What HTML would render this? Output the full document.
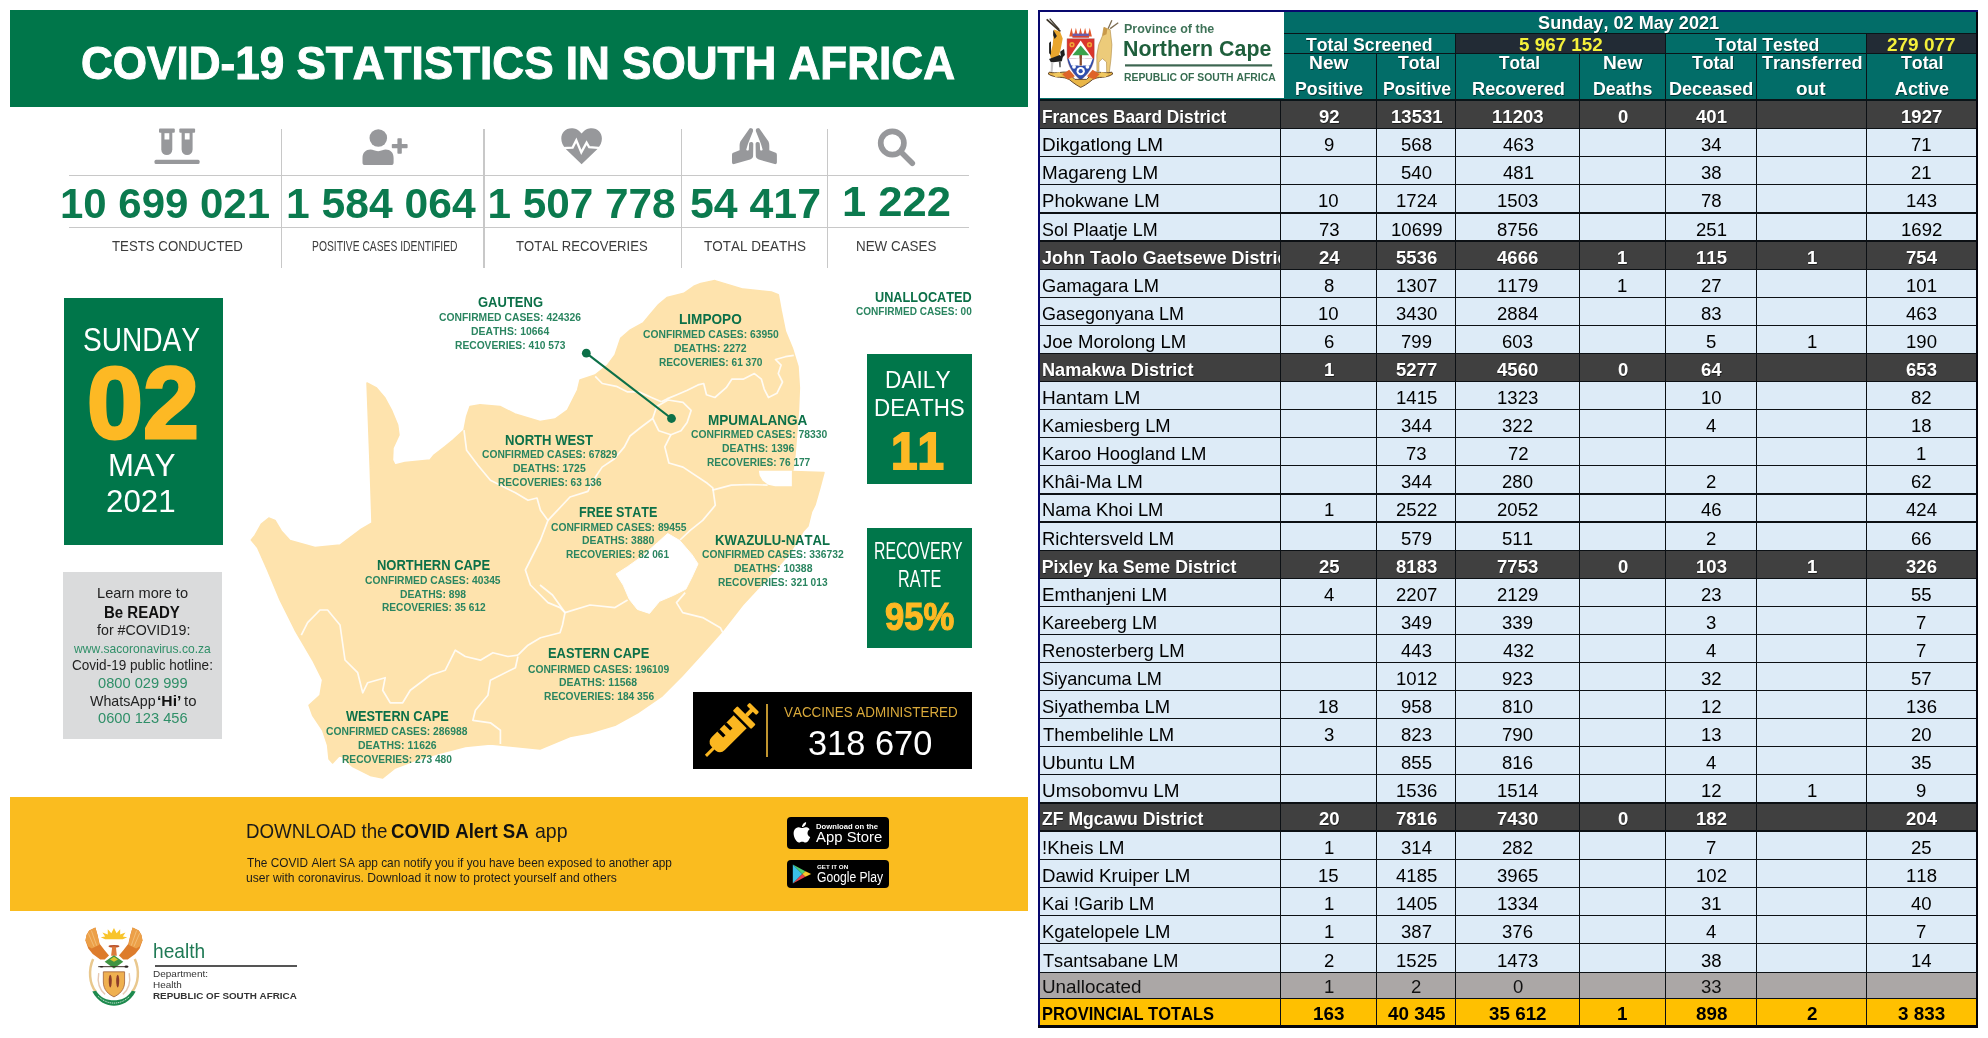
<!DOCTYPE html>
<html lang="en"><head><meta charset="utf-8"><title>COVID-19 Statistics in South Africa - Northern Cape</title>
<style>
html,body{margin:0;padding:0;background:#fff}
body{width:1988px;height:1038px;position:relative;overflow:hidden;font-family:"Liberation Sans",sans-serif}
.t{position:absolute;white-space:pre;line-height:1;transform-origin:0 0;display:block;font-kerning:none}
</style></head><body>
<div id="sheet" style="position:absolute;left:0;top:0;width:1988px;height:1038px;will-change:transform">
<div style="position:absolute;left:10.00px;top:10.00px;width:1018.00px;height:97.30px;background:#00764a;"></div>
<span class="t" style="left:80.79px;top:40px;font-size:46.8px;color:#fff;font-weight:700;transform:scaleX(0.9416);-webkit-text-stroke:1px #fff;">COVID-19 STATISTICS IN SOUTH AFRICA</span>
<div style="position:absolute;left:69.00px;top:175.40px;width:900.00px;height:1.10px;background:#c8c8c8;"></div>
<div style="position:absolute;left:69.00px;top:227.00px;width:900.00px;height:1.10px;background:#c8c8c8;"></div>
<div style="position:absolute;left:280.80px;top:129.00px;width:1.30px;height:139.00px;background:#c8c8c8;"></div>
<div style="position:absolute;left:483.30px;top:129.00px;width:1.30px;height:139.00px;background:#c8c8c8;"></div>
<div style="position:absolute;left:681.20px;top:129.00px;width:1.30px;height:139.00px;background:#c8c8c8;"></div>
<div style="position:absolute;left:827.00px;top:129.00px;width:1.30px;height:139.00px;background:#c8c8c8;"></div>
<span class="t" style="left:59.96px;top:183px;font-size:42.3px;color:#0b7a4e;font-weight:700;transform:scaleX(0.9920);">10 699 021</span>
<span class="t" style="left:285.72px;top:183px;font-size:42.3px;color:#0b7a4e;font-weight:700;transform:scaleX(1.0076);">1 584 064</span>
<span class="t" style="left:487.44px;top:183px;font-size:42.3px;color:#0b7a4e;font-weight:700;">1 507 778</span>
<span class="t" style="left:689.98px;top:183px;font-size:42.3px;color:#0b7a4e;font-weight:700;transform:scaleX(1.0125);">54 417</span>
<span class="t" style="left:841.96px;top:181px;font-size:42.3px;color:#0b7a4e;font-weight:700;transform:scaleX(1.0286);">1 222</span>
<span class="t" style="left:112.10px;top:238px;font-size:15.3px;color:#3c3c3c;transform:scaleX(0.8653);">TESTS CONDUCTED</span>
<span class="t" style="left:311.95px;top:238px;font-size:15.3px;color:#3c3c3c;transform:scaleX(0.6740);">POSITIVE CASES IDENTIFIED</span>
<span class="t" style="left:516.21px;top:238px;font-size:15.3px;color:#3c3c3c;transform:scaleX(0.8558);">TOTAL RECOVERIES</span>
<span class="t" style="left:703.60px;top:238px;font-size:15.3px;color:#3c3c3c;transform:scaleX(0.8824);">TOTAL DEATHS</span>
<span class="t" style="left:856.20px;top:238px;font-size:15.3px;color:#3c3c3c;transform:scaleX(0.8758);">NEW CASES</span>
<div style="position:absolute;left:63.50px;top:297.50px;width:159.30px;height:247.30px;background:#00764a;"></div>
<span class="t" style="left:82.62px;top:324px;font-size:32.8px;color:#fff;transform:scaleX(0.8566);">SUNDAY</span>
<span class="t" style="left:87.42px;top:352px;font-size:102px;color:#fdb924;font-weight:700;transform:scaleX(0.9873);-webkit-text-stroke:3px #fdb924;">02</span>
<span class="t" style="left:108.05px;top:449px;font-size:32.2px;color:#fff;transform:scaleX(0.9665);">MAY</span>
<span class="t" style="left:105.82px;top:486px;font-size:31.2px;color:#fff;transform:scaleX(1.0043);">2021</span>
<div style="position:absolute;left:63.10px;top:571.90px;width:159.20px;height:167.30px;background:#dadbdc;"></div>
<span class="t" style="left:97.00px;top:586px;font-size:14.5px;color:#222;transform:scaleX(1.0082);">Learn more to</span>
<span class="t" style="left:104.10px;top:605px;font-size:16px;color:#111;font-weight:700;transform:scaleX(0.9374);">Be READY</span>
<span class="t" style="left:96.60px;top:623px;font-size:14.5px;color:#222;transform:scaleX(0.9822);">for #COVID19:</span>
<span class="t" style="left:74.32px;top:642px;font-size:13px;color:#2f8f68;transform:scaleX(0.9281);">www.sacoronavirus.co.za</span>
<span class="t" style="left:72.41px;top:658px;font-size:14.5px;color:#222;transform:scaleX(0.9350);">Covid-19 public hotline:</span>
<span class="t" style="left:97.83px;top:676px;font-size:14.5px;color:#2f8f68;transform:scaleX(1.0109);">0800 029 999</span>
<span class="t" style="left:89.64px;top:694px;font-size:14.5px;color:#222;transform:scaleX(0.9801);">WhatsApp</span>
<span class="t" style="left:157.44px;top:694px;font-size:14.5px;color:#111;font-weight:700;transform:scaleX(1.0783);">‘Hi’</span>
<span class="t" style="left:184.27px;top:694px;font-size:14.5px;color:#222;transform:scaleX(1.0298);">to</span>
<span class="t" style="left:97.83px;top:711px;font-size:14.5px;color:#2f8f68;transform:scaleX(1.0103);">0600 123 456</span>
<div style="position:absolute;left:867.10px;top:354.20px;width:104.90px;height:130.30px;background:#00764a;"></div>
<span class="t" style="left:885.14px;top:368px;font-size:24.1px;color:#fff;transform:scaleX(0.9412);">DAILY</span>
<span class="t" style="left:873.76px;top:396px;font-size:24.1px;color:#fff;transform:scaleX(0.9285);">DEATHS</span>
<span class="t" style="left:890.60px;top:425px;font-size:52px;color:#fdb924;font-weight:700;transform:scaleX(0.9150);-webkit-text-stroke:2px #fdb924;">11</span>
<div style="position:absolute;left:867.00px;top:528.00px;width:105.30px;height:119.90px;background:#00764a;"></div>
<span class="t" style="left:874.41px;top:539px;font-size:24.6px;color:#fff;transform:scaleX(0.6406);">RECOVERY</span>
<span class="t" style="left:897.67px;top:567px;font-size:24.6px;color:#fff;transform:scaleX(0.6589);">RATE</span>
<span class="t" style="left:885.30px;top:598px;font-size:38.8px;color:#fdb924;font-weight:700;transform:scaleX(0.8912);-webkit-text-stroke:1.2px #fdb924;">95%</span>
<div style="position:absolute;left:692.80px;top:692.20px;width:279.10px;height:76.70px;background:#000;"></div>
<div style="position:absolute;left:766.40px;top:704.20px;width:1.80px;height:52.50px;background:#c0952f;"></div>
<span class="t" style="left:783.64px;top:705px;font-size:14.8px;color:#d9a93a;transform:scaleX(0.9071);">VACCINES ADMINISTERED</span>
<span class="t" style="left:808.09px;top:726px;font-size:34.6px;color:#fff;transform:scaleX(0.9943);">318 670</span>
<div style="position:absolute;left:10.00px;top:797.00px;width:1018.00px;height:113.70px;background:#fabc1f;"></div>
<span class="t" style="left:245.56px;top:822px;font-size:19.8px;color:#1a1a1a;transform:scaleX(0.9468);">DOWNLOAD the</span>
<span class="t" style="left:391.43px;top:822px;font-size:19.8px;color:#111;font-weight:700;transform:scaleX(0.9421);">COVID Alert SA</span>
<span class="t" style="left:534.67px;top:822px;font-size:19.8px;color:#1a1a1a;transform:scaleX(0.9884);">app</span>
<span class="t" style="left:246.83px;top:857px;font-size:12.8px;color:#1a1a1a;transform:scaleX(0.9247);">The COVID Alert SA app can notify you if you have been exposed to another app</span>
<span class="t" style="left:246.31px;top:872px;font-size:12.8px;color:#1a1a1a;transform:scaleX(0.9479);">user with coronavirus. Download it now to protect yourself and others</span>
<div style="position:absolute;left:786.60px;top:816.60px;width:102.90px;height:32.70px;background:#000;border-radius:4px;"></div>
<span class="t" style="left:815.69px;top:823px;font-size:8.1px;color:#fff;font-weight:700;transform:scaleX(0.9500);">Download on the</span>
<span class="t" style="left:816.17px;top:829px;font-size:15.4px;color:#fff;transform:scaleX(0.9679);">App Store</span>
<div style="position:absolute;left:786.60px;top:859.70px;width:102.90px;height:28.50px;background:#000;border-radius:4px;"></div>
<span class="t" style="left:816.94px;top:864px;font-size:6.1px;color:#fff;font-weight:700;transform:scaleX(1.0255);">GET IT ON</span>
<span class="t" style="left:816.59px;top:870px;font-size:14px;color:#fff;transform:scaleX(0.8671);">Google Play</span>
<span class="t" style="left:152.67px;top:941px;font-size:20.7px;color:#1f7a55;transform:scaleX(0.9250);">health</span>
<div style="position:absolute;left:154.50px;top:965.20px;width:142.10px;height:1.40px;background:#555;"></div>
<span class="t" style="left:153.18px;top:970px;font-size:9.2px;color:#333;transform:scaleX(1.0892);">Department:</span>
<span class="t" style="left:153.18px;top:981px;font-size:9.2px;color:#333;transform:scaleX(1.0815);">Health</span>
<span class="t" style="left:153.34px;top:991px;font-size:9.7px;color:#333;font-weight:700;transform:scaleX(1.0155);">REPUBLIC OF SOUTH AFRICA</span>
<div style="position:absolute;left:1038.00px;top:10.00px;width:940.00px;height:1017.60px;background:#08086e;"></div>
<div style="position:absolute;left:1038.00px;top:1025.40px;width:940.00px;height:2.20px;background:#04040c;"></div>
<div style="position:absolute;left:1976.00px;top:12.00px;width:2.00px;height:1015.60px;background:#04040c;"></div>
<div style="position:absolute;left:1040.00px;top:12.00px;width:936.00px;height:87.00px;background:#026d68;"></div>
<div style="position:absolute;left:1040.00px;top:12.00px;width:243.50px;height:85.50px;background:#fff;"></div>
<div style="position:absolute;left:1455.40px;top:33.80px;width:209.80px;height:19.20px;background:#222b35;"></div>
<div style="position:absolute;left:1866.20px;top:33.80px;width:109.80px;height:19.20px;background:#222b35;"></div>
<div style="position:absolute;left:1283.50px;top:33.00px;width:692.50px;height:1.20px;background:#0a1418;"></div>
<div style="position:absolute;left:1283.50px;top:53.00px;width:692.50px;height:1.20px;background:#0a1418;"></div>
<div style="position:absolute;left:1455.00px;top:33.50px;width:1.30px;height:66.00px;background:#0a1418;"></div>
<div style="position:absolute;left:1665.00px;top:33.50px;width:1.30px;height:66.00px;background:#0a1418;"></div>
<div style="position:absolute;left:1866.00px;top:33.50px;width:1.30px;height:66.00px;background:#0a1418;"></div>
<div style="position:absolute;left:1376.00px;top:53.50px;width:1.30px;height:46.00px;background:#0a1418;"></div>
<div style="position:absolute;left:1579.00px;top:53.50px;width:1.30px;height:46.00px;background:#0a1418;"></div>
<div style="position:absolute;left:1756.00px;top:53.50px;width:1.30px;height:46.00px;background:#0a1418;"></div>
<div style="position:absolute;left:1040.00px;top:100.55px;width:936.00px;height:28.09px;background:#404040;"></div>
<div style="position:absolute;left:1040.00px;top:128.64px;width:936.00px;height:28.10px;background:#ddebf7;"></div>
<div style="position:absolute;left:1040.00px;top:156.74px;width:936.00px;height:28.09px;background:#ddebf7;"></div>
<div style="position:absolute;left:1040.00px;top:184.83px;width:936.00px;height:28.10px;background:#ddebf7;"></div>
<div style="position:absolute;left:1040.00px;top:212.93px;width:936.00px;height:28.09px;background:#ddebf7;"></div>
<div style="position:absolute;left:1040.00px;top:241.02px;width:936.00px;height:28.10px;background:#404040;"></div>
<div style="position:absolute;left:1040.00px;top:269.12px;width:936.00px;height:28.09px;background:#ddebf7;"></div>
<div style="position:absolute;left:1040.00px;top:297.21px;width:936.00px;height:28.10px;background:#ddebf7;"></div>
<div style="position:absolute;left:1040.00px;top:325.31px;width:936.00px;height:28.09px;background:#ddebf7;"></div>
<div style="position:absolute;left:1040.00px;top:353.40px;width:936.00px;height:28.10px;background:#404040;"></div>
<div style="position:absolute;left:1040.00px;top:381.50px;width:936.00px;height:28.09px;background:#ddebf7;"></div>
<div style="position:absolute;left:1040.00px;top:409.59px;width:936.00px;height:28.10px;background:#ddebf7;"></div>
<div style="position:absolute;left:1040.00px;top:437.69px;width:936.00px;height:28.10px;background:#ddebf7;"></div>
<div style="position:absolute;left:1040.00px;top:465.79px;width:936.00px;height:28.09px;background:#ddebf7;"></div>
<div style="position:absolute;left:1040.00px;top:493.88px;width:936.00px;height:28.09px;background:#ddebf7;"></div>
<div style="position:absolute;left:1040.00px;top:521.97px;width:936.00px;height:28.10px;background:#ddebf7;"></div>
<div style="position:absolute;left:1040.00px;top:550.07px;width:936.00px;height:28.10px;background:#404040;"></div>
<div style="position:absolute;left:1040.00px;top:578.16px;width:936.00px;height:28.10px;background:#ddebf7;"></div>
<div style="position:absolute;left:1040.00px;top:606.26px;width:936.00px;height:28.09px;background:#ddebf7;"></div>
<div style="position:absolute;left:1040.00px;top:634.35px;width:936.00px;height:28.10px;background:#ddebf7;"></div>
<div style="position:absolute;left:1040.00px;top:662.45px;width:936.00px;height:28.10px;background:#ddebf7;"></div>
<div style="position:absolute;left:1040.00px;top:690.54px;width:936.00px;height:28.09px;background:#ddebf7;"></div>
<div style="position:absolute;left:1040.00px;top:718.64px;width:936.00px;height:28.10px;background:#ddebf7;"></div>
<div style="position:absolute;left:1040.00px;top:746.73px;width:936.00px;height:28.10px;background:#ddebf7;"></div>
<div style="position:absolute;left:1040.00px;top:774.83px;width:936.00px;height:28.10px;background:#ddebf7;"></div>
<div style="position:absolute;left:1040.00px;top:802.92px;width:936.00px;height:28.10px;background:#404040;"></div>
<div style="position:absolute;left:1040.00px;top:831.02px;width:936.00px;height:28.09px;background:#ddebf7;"></div>
<div style="position:absolute;left:1040.00px;top:859.11px;width:936.00px;height:28.10px;background:#ddebf7;"></div>
<div style="position:absolute;left:1040.00px;top:887.21px;width:936.00px;height:28.10px;background:#ddebf7;"></div>
<div style="position:absolute;left:1040.00px;top:915.30px;width:936.00px;height:28.09px;background:#ddebf7;"></div>
<div style="position:absolute;left:1040.00px;top:943.40px;width:936.00px;height:29.00px;background:#ddebf7;"></div>
<div style="position:absolute;left:1040.00px;top:972.40px;width:936.00px;height:26.00px;background:#aba7a6;"></div>
<div style="position:absolute;left:1040.00px;top:998.40px;width:936.00px;height:27.00px;background:#ffc000;"></div>
<div style="position:absolute;left:1040.00px;top:99.00px;width:936.00px;height:1.50px;background:#0a1418;"></div>
<div style="position:absolute;left:1040.00px;top:128.09px;width:936.00px;height:1.20px;background:#0c1014;"></div>
<div style="position:absolute;left:1040.00px;top:156.19px;width:936.00px;height:1.20px;background:#0c1014;"></div>
<div style="position:absolute;left:1040.00px;top:184.28px;width:936.00px;height:1.20px;background:#0c1014;"></div>
<div style="position:absolute;left:1040.00px;top:212.38px;width:936.00px;height:1.20px;background:#0c1014;"></div>
<div style="position:absolute;left:1040.00px;top:240.47px;width:936.00px;height:1.20px;background:#0c1014;"></div>
<div style="position:absolute;left:1040.00px;top:268.57px;width:936.00px;height:1.20px;background:#0c1014;"></div>
<div style="position:absolute;left:1040.00px;top:296.66px;width:936.00px;height:1.20px;background:#0c1014;"></div>
<div style="position:absolute;left:1040.00px;top:324.76px;width:936.00px;height:1.20px;background:#0c1014;"></div>
<div style="position:absolute;left:1040.00px;top:352.85px;width:936.00px;height:1.20px;background:#0c1014;"></div>
<div style="position:absolute;left:1040.00px;top:380.95px;width:936.00px;height:1.20px;background:#0c1014;"></div>
<div style="position:absolute;left:1040.00px;top:409.04px;width:936.00px;height:1.20px;background:#0c1014;"></div>
<div style="position:absolute;left:1040.00px;top:437.14px;width:936.00px;height:1.20px;background:#0c1014;"></div>
<div style="position:absolute;left:1040.00px;top:465.24px;width:936.00px;height:1.20px;background:#0c1014;"></div>
<div style="position:absolute;left:1040.00px;top:493.33px;width:936.00px;height:1.20px;background:#0c1014;"></div>
<div style="position:absolute;left:1040.00px;top:521.42px;width:936.00px;height:1.20px;background:#0c1014;"></div>
<div style="position:absolute;left:1040.00px;top:549.52px;width:936.00px;height:1.20px;background:#0c1014;"></div>
<div style="position:absolute;left:1040.00px;top:577.62px;width:936.00px;height:1.20px;background:#0c1014;"></div>
<div style="position:absolute;left:1040.00px;top:605.71px;width:936.00px;height:1.20px;background:#0c1014;"></div>
<div style="position:absolute;left:1040.00px;top:633.80px;width:936.00px;height:1.20px;background:#0c1014;"></div>
<div style="position:absolute;left:1040.00px;top:661.90px;width:936.00px;height:1.20px;background:#0c1014;"></div>
<div style="position:absolute;left:1040.00px;top:690.00px;width:936.00px;height:1.20px;background:#0c1014;"></div>
<div style="position:absolute;left:1040.00px;top:718.09px;width:936.00px;height:1.20px;background:#0c1014;"></div>
<div style="position:absolute;left:1040.00px;top:746.18px;width:936.00px;height:1.20px;background:#0c1014;"></div>
<div style="position:absolute;left:1040.00px;top:774.28px;width:936.00px;height:1.20px;background:#0c1014;"></div>
<div style="position:absolute;left:1040.00px;top:802.38px;width:936.00px;height:1.20px;background:#0c1014;"></div>
<div style="position:absolute;left:1040.00px;top:830.47px;width:936.00px;height:1.20px;background:#0c1014;"></div>
<div style="position:absolute;left:1040.00px;top:858.56px;width:936.00px;height:1.20px;background:#0c1014;"></div>
<div style="position:absolute;left:1040.00px;top:886.66px;width:936.00px;height:1.20px;background:#0c1014;"></div>
<div style="position:absolute;left:1040.00px;top:914.75px;width:936.00px;height:1.20px;background:#0c1014;"></div>
<div style="position:absolute;left:1040.00px;top:942.85px;width:936.00px;height:1.20px;background:#0c1014;"></div>
<div style="position:absolute;left:1040.00px;top:971.85px;width:936.00px;height:1.20px;background:#0c1014;"></div>
<div style="position:absolute;left:1040.00px;top:997.85px;width:936.00px;height:1.20px;background:#0c1014;"></div>
<div style="position:absolute;left:1280.00px;top:99.50px;width:1.30px;height:926.00px;background:#0c1014;"></div>
<div style="position:absolute;left:1376.00px;top:99.50px;width:1.30px;height:926.00px;background:#0c1014;"></div>
<div style="position:absolute;left:1455.00px;top:99.50px;width:1.30px;height:926.00px;background:#0c1014;"></div>
<div style="position:absolute;left:1579.00px;top:99.50px;width:1.30px;height:926.00px;background:#0c1014;"></div>
<div style="position:absolute;left:1665.00px;top:99.50px;width:1.30px;height:926.00px;background:#0c1014;"></div>
<div style="position:absolute;left:1756.00px;top:99.50px;width:1.30px;height:926.00px;background:#0c1014;"></div>
<div style="position:absolute;left:1866.00px;top:99.50px;width:1.30px;height:926.00px;background:#0c1014;"></div>
<span class="t" style="left:1538.08px;top:14px;font-size:18.1px;color:#fff;font-weight:700;text-shadow:0.6px 0.8px 0.5px rgba(0,0,0,.55);">Sunday, 02 May 2021</span>
<span class="t" style="left:1305.60px;top:36px;font-size:18.1px;color:#fff;font-weight:700;transform:scaleX(0.9754);text-shadow:0.6px 0.8px 0.5px rgba(0,0,0,.55);">Total Screened</span>
<span class="t" style="left:1518.92px;top:36px;font-size:18.1px;color:#f4f03a;font-weight:700;transform:scaleX(1.0411);">5 967 152</span>
<span class="t" style="left:1714.90px;top:36px;font-size:18.1px;color:#fff;font-weight:700;transform:scaleX(0.9800);text-shadow:0.6px 0.8px 0.5px rgba(0,0,0,.55);">Total Tested</span>
<span class="t" style="left:1887.04px;top:36px;font-size:18.1px;color:#f4f03a;font-weight:700;transform:scaleX(1.0484);">279 077</span>
<span class="t" style="left:1308.51px;top:54px;font-size:18.1px;color:#fff;font-weight:700;transform:scaleX(1.0627);text-shadow:0.6px 0.8px 0.5px rgba(0,0,0,.55);">New</span>
<span class="t" style="left:1294.61px;top:80px;font-size:18.1px;color:#fff;font-weight:700;transform:scaleX(0.9825);text-shadow:0.6px 0.8px 0.5px rgba(0,0,0,.55);">Positive</span>
<span class="t" style="left:1397.60px;top:54px;font-size:18.1px;color:#fff;font-weight:700;transform:scaleX(0.9772);text-shadow:0.6px 0.8px 0.5px rgba(0,0,0,.55);">Total</span>
<span class="t" style="left:1382.51px;top:80px;font-size:18.1px;color:#fff;font-weight:700;transform:scaleX(0.9825);text-shadow:0.6px 0.8px 0.5px rgba(0,0,0,.55);">Positive</span>
<span class="t" style="left:1498.81px;top:54px;font-size:18.1px;color:#fff;font-weight:700;transform:scaleX(0.9485);text-shadow:0.6px 0.8px 0.5px rgba(0,0,0,.55);">Total</span>
<span class="t" style="left:1471.58px;top:80px;font-size:18.1px;color:#fff;font-weight:700;transform:scaleX(1.0049);text-shadow:0.6px 0.8px 0.5px rgba(0,0,0,.55);">Recovered</span>
<span class="t" style="left:1602.72px;top:54px;font-size:18.1px;color:#fff;font-weight:700;transform:scaleX(1.0599);text-shadow:0.6px 0.8px 0.5px rgba(0,0,0,.55);">New</span>
<span class="t" style="left:1592.71px;top:80px;font-size:18.1px;color:#fff;font-weight:700;transform:scaleX(0.9829);text-shadow:0.6px 0.8px 0.5px rgba(0,0,0,.55);">Deaths</span>
<span class="t" style="left:1691.50px;top:54px;font-size:18.1px;color:#fff;font-weight:700;transform:scaleX(0.9772);text-shadow:0.6px 0.8px 0.5px rgba(0,0,0,.55);">Total</span>
<span class="t" style="left:1668.89px;top:80px;font-size:18.1px;color:#fff;font-weight:700;text-shadow:0.6px 0.8px 0.5px rgba(0,0,0,.55);">Deceased</span>
<span class="t" style="left:1762.00px;top:54px;font-size:18.1px;color:#fff;font-weight:700;text-shadow:0.6px 0.8px 0.5px rgba(0,0,0,.55);">Transferred</span>
<span class="t" style="left:1796.46px;top:80px;font-size:18.1px;color:#fff;font-weight:700;transform:scaleX(1.0510);text-shadow:0.6px 0.8px 0.5px rgba(0,0,0,.55);">out</span>
<span class="t" style="left:1901.10px;top:54px;font-size:18.1px;color:#fff;font-weight:700;transform:scaleX(0.9820);text-shadow:0.6px 0.8px 0.5px rgba(0,0,0,.55);">Total</span>
<span class="t" style="left:1894.85px;top:80px;font-size:18.1px;color:#fff;font-weight:700;text-shadow:0.6px 0.8px 0.5px rgba(0,0,0,.55);">Active</span>
<span class="t" style="left:1041.74px;top:109px;font-size:17.8px;color:#fff;font-weight:700;transform:scaleX(0.9712);text-shadow:0.6px 0.8px 0.5px rgba(0,0,0,.55);">Frances Baard District</span>
<span class="t" style="left:1318.82px;top:108px;font-size:18.3px;color:#fff;font-weight:700;transform:scaleX(1.0150);text-shadow:0.6px 0.8px 0.5px rgba(0,0,0,.55);">92</span>
<span class="t" style="left:1390.50px;top:108px;font-size:18.3px;color:#fff;font-weight:700;transform:scaleX(1.0150);text-shadow:0.6px 0.8px 0.5px rgba(0,0,0,.55);">13531</span>
<span class="t" style="left:1491.77px;top:108px;font-size:18.3px;color:#fff;font-weight:700;transform:scaleX(1.0150);text-shadow:0.6px 0.8px 0.5px rgba(0,0,0,.55);">11203</span>
<span class="t" style="left:1617.60px;top:108px;font-size:18.3px;color:#fff;font-weight:700;transform:scaleX(1.0150);text-shadow:0.6px 0.8px 0.5px rgba(0,0,0,.55);">0</span>
<span class="t" style="left:1696.17px;top:108px;font-size:18.3px;color:#fff;font-weight:700;transform:scaleX(1.0150);text-shadow:0.6px 0.8px 0.5px rgba(0,0,0,.55);">401</span>
<span class="t" style="left:1900.66px;top:108px;font-size:18.3px;color:#fff;font-weight:700;transform:scaleX(1.0150);text-shadow:0.6px 0.8px 0.5px rgba(0,0,0,.55);">1927</span>
<span class="t" style="left:1041.64px;top:137px;font-size:17.8px;color:#000;transform:scaleX(1.0653);">Dikgatlong LM</span>
<span class="t" style="left:1323.94px;top:136px;font-size:18.3px;color:#000;transform:scaleX(1.0150);">9</span>
<span class="t" style="left:1401.19px;top:136px;font-size:18.3px;color:#000;transform:scaleX(1.0150);">568</span>
<span class="t" style="left:1502.55px;top:136px;font-size:18.3px;color:#000;transform:scaleX(1.0150);">463</span>
<span class="t" style="left:1701.14px;top:136px;font-size:18.3px;color:#000;transform:scaleX(1.0150);">34</span>
<span class="t" style="left:1911.15px;top:136px;font-size:18.3px;color:#000;transform:scaleX(1.0150);">71</span>
<span class="t" style="left:1041.65px;top:165px;font-size:17.8px;color:#000;transform:scaleX(1.0589);">Magareng LM</span>
<span class="t" style="left:1401.15px;top:164px;font-size:18.3px;color:#000;transform:scaleX(1.0150);">540</span>
<span class="t" style="left:1502.59px;top:164px;font-size:18.3px;color:#000;transform:scaleX(1.0150);">481</span>
<span class="t" style="left:1701.27px;top:164px;font-size:18.3px;color:#000;transform:scaleX(1.0150);">38</span>
<span class="t" style="left:1911.16px;top:164px;font-size:18.3px;color:#000;transform:scaleX(1.0150);">21</span>
<span class="t" style="left:1041.67px;top:193px;font-size:17.8px;color:#000;transform:scaleX(1.0448);">Phokwane LM</span>
<span class="t" style="left:1318.43px;top:192px;font-size:18.3px;color:#000;transform:scaleX(1.0150);">10</span>
<span class="t" style="left:1395.55px;top:192px;font-size:18.3px;color:#000;transform:scaleX(1.0150);">1724</span>
<span class="t" style="left:1496.89px;top:192px;font-size:18.3px;color:#000;transform:scaleX(1.0150);">1503</span>
<span class="t" style="left:1701.15px;top:192px;font-size:18.3px;color:#000;transform:scaleX(1.0150);">78</span>
<span class="t" style="left:1905.71px;top:192px;font-size:18.3px;color:#000;transform:scaleX(1.0150);">143</span>
<span class="t" style="left:1042.39px;top:222px;font-size:17.8px;color:#000;transform:scaleX(1.0080);">Sol Plaatje LM</span>
<span class="t" style="left:1318.70px;top:221px;font-size:18.3px;color:#000;transform:scaleX(1.0150);">73</span>
<span class="t" style="left:1390.56px;top:221px;font-size:18.3px;color:#000;transform:scaleX(1.0150);">10699</span>
<span class="t" style="left:1497.19px;top:221px;font-size:18.3px;color:#000;transform:scaleX(1.0150);">8756</span>
<span class="t" style="left:1696.04px;top:221px;font-size:18.3px;color:#000;transform:scaleX(1.0150);">251</span>
<span class="t" style="left:1900.60px;top:221px;font-size:18.3px;color:#000;transform:scaleX(1.0150);">1692</span>
<div style="position:absolute;left:1040px;top:241.0px;width:239.7px;height:28.095px;overflow:hidden">
<span class="t" style="left:2.33px;top:9.0px;font-size:17.8px;font-weight:700;color:#fff;transform:scaleX(1.01);text-shadow:0.6px 0.8px 0.5px rgba(0,0,0,.55);">John Taolo Gaetsewe District</span></div>
<span class="t" style="left:1318.50px;top:249px;font-size:18.3px;color:#fff;font-weight:700;transform:scaleX(1.0150);text-shadow:0.6px 0.8px 0.5px rgba(0,0,0,.55);">24</span>
<span class="t" style="left:1396.04px;top:249px;font-size:18.3px;color:#fff;font-weight:700;transform:scaleX(1.0150);text-shadow:0.6px 0.8px 0.5px rgba(0,0,0,.55);">5536</span>
<span class="t" style="left:1497.38px;top:249px;font-size:18.3px;color:#fff;font-weight:700;transform:scaleX(1.0150);text-shadow:0.6px 0.8px 0.5px rgba(0,0,0,.55);">4666</span>
<span class="t" style="left:1617.26px;top:249px;font-size:18.3px;color:#fff;font-weight:700;transform:scaleX(1.0150);text-shadow:0.6px 0.8px 0.5px rgba(0,0,0,.55);">1</span>
<span class="t" style="left:1695.73px;top:249px;font-size:18.3px;color:#fff;font-weight:700;transform:scaleX(1.0150);text-shadow:0.6px 0.8px 0.5px rgba(0,0,0,.55);">115</span>
<span class="t" style="left:1806.56px;top:249px;font-size:18.3px;color:#fff;font-weight:700;transform:scaleX(1.0150);text-shadow:0.6px 0.8px 0.5px rgba(0,0,0,.55);">1</span>
<span class="t" style="left:1905.66px;top:249px;font-size:18.3px;color:#fff;font-weight:700;transform:scaleX(1.0150);text-shadow:0.6px 0.8px 0.5px rgba(0,0,0,.55);">754</span>
<span class="t" style="left:1042.28px;top:278px;font-size:17.8px;color:#000;transform:scaleX(1.0286);">Gamagara LM</span>
<span class="t" style="left:1323.93px;top:277px;font-size:18.3px;color:#000;transform:scaleX(1.0150);">8</span>
<span class="t" style="left:1395.75px;top:277px;font-size:18.3px;color:#000;transform:scaleX(1.0150);">1307</span>
<span class="t" style="left:1496.92px;top:277px;font-size:18.3px;color:#000;transform:scaleX(1.0150);">1179</span>
<span class="t" style="left:1617.33px;top:277px;font-size:18.3px;color:#000;transform:scaleX(1.0150);">1</span>
<span class="t" style="left:1701.22px;top:277px;font-size:18.3px;color:#000;transform:scaleX(1.0150);">27</span>
<span class="t" style="left:1905.75px;top:277px;font-size:18.3px;color:#000;transform:scaleX(1.0150);">101</span>
<span class="t" style="left:1042.29px;top:306px;font-size:17.8px;color:#000;transform:scaleX(1.0112);">Gasegonyana LM</span>
<span class="t" style="left:1318.43px;top:305px;font-size:18.3px;color:#000;transform:scaleX(1.0150);">10</span>
<span class="t" style="left:1396.00px;top:305px;font-size:18.3px;color:#000;transform:scaleX(1.0150);">3430</span>
<span class="t" style="left:1496.99px;top:305px;font-size:18.3px;color:#000;transform:scaleX(1.0150);">2884</span>
<span class="t" style="left:1701.22px;top:305px;font-size:18.3px;color:#000;transform:scaleX(1.0150);">83</span>
<span class="t" style="left:1906.20px;top:305px;font-size:18.3px;color:#000;transform:scaleX(1.0150);">463</span>
<span class="t" style="left:1042.91px;top:334px;font-size:17.8px;color:#000;transform:scaleX(1.0428);">Joe Morolong LM</span>
<span class="t" style="left:1323.87px;top:333px;font-size:18.3px;color:#000;transform:scaleX(1.0150);">6</span>
<span class="t" style="left:1401.12px;top:333px;font-size:18.3px;color:#000;transform:scaleX(1.0150);">799</span>
<span class="t" style="left:1502.29px;top:333px;font-size:18.3px;color:#000;transform:scaleX(1.0150);">603</span>
<span class="t" style="left:1706.40px;top:333px;font-size:18.3px;color:#000;transform:scaleX(1.0150);">5</span>
<span class="t" style="left:1806.63px;top:333px;font-size:18.3px;color:#000;transform:scaleX(1.0150);">1</span>
<span class="t" style="left:1905.66px;top:333px;font-size:18.3px;color:#000;transform:scaleX(1.0150);">190</span>
<span class="t" style="left:1041.68px;top:362px;font-size:17.8px;color:#fff;font-weight:700;transform:scaleX(1.0218);text-shadow:0.6px 0.8px 0.5px rgba(0,0,0,.55);">Namakwa District</span>
<span class="t" style="left:1323.61px;top:361px;font-size:18.3px;color:#fff;font-weight:700;transform:scaleX(1.0150);text-shadow:0.6px 0.8px 0.5px rgba(0,0,0,.55);">1</span>
<span class="t" style="left:1396.11px;top:361px;font-size:18.3px;color:#fff;font-weight:700;transform:scaleX(1.0150);text-shadow:0.6px 0.8px 0.5px rgba(0,0,0,.55);">5277</span>
<span class="t" style="left:1497.43px;top:361px;font-size:18.3px;color:#fff;font-weight:700;transform:scaleX(1.0150);text-shadow:0.6px 0.8px 0.5px rgba(0,0,0,.55);">4560</span>
<span class="t" style="left:1617.60px;top:361px;font-size:18.3px;color:#fff;font-weight:700;transform:scaleX(1.0150);text-shadow:0.6px 0.8px 0.5px rgba(0,0,0,.55);">0</span>
<span class="t" style="left:1700.93px;top:361px;font-size:18.3px;color:#fff;font-weight:700;transform:scaleX(1.0150);text-shadow:0.6px 0.8px 0.5px rgba(0,0,0,.55);">64</span>
<span class="t" style="left:1906.00px;top:361px;font-size:18.3px;color:#fff;font-weight:700;transform:scaleX(1.0150);text-shadow:0.6px 0.8px 0.5px rgba(0,0,0,.55);">653</span>
<span class="t" style="left:1041.64px;top:390px;font-size:17.8px;color:#000;transform:scaleX(1.0698);">Hantam LM</span>
<span class="t" style="left:1395.67px;top:389px;font-size:18.3px;color:#000;transform:scaleX(1.0150);">1415</span>
<span class="t" style="left:1496.89px;top:389px;font-size:18.3px;color:#000;transform:scaleX(1.0150);">1323</span>
<span class="t" style="left:1700.88px;top:389px;font-size:18.3px;color:#000;transform:scaleX(1.0150);">10</span>
<span class="t" style="left:1911.23px;top:389px;font-size:18.3px;color:#000;transform:scaleX(1.0150);">82</span>
<span class="t" style="left:1041.69px;top:418px;font-size:17.8px;color:#000;transform:scaleX(1.0334);">Kamiesberg LM</span>
<span class="t" style="left:1401.07px;top:417px;font-size:18.3px;color:#000;transform:scaleX(1.0150);">344</span>
<span class="t" style="left:1502.47px;top:417px;font-size:18.3px;color:#000;transform:scaleX(1.0150);">322</span>
<span class="t" style="left:1706.44px;top:417px;font-size:18.3px;color:#000;transform:scaleX(1.0150);">4</span>
<span class="t" style="left:1910.87px;top:417px;font-size:18.3px;color:#000;transform:scaleX(1.0150);">18</span>
<span class="t" style="left:1041.68px;top:446px;font-size:17.8px;color:#000;transform:scaleX(1.0392);">Karoo Hoogland LM</span>
<span class="t" style="left:1406.25px;top:445px;font-size:18.3px;color:#000;transform:scaleX(1.0150);">73</span>
<span class="t" style="left:1507.51px;top:445px;font-size:18.3px;color:#000;transform:scaleX(1.0150);">72</span>
<span class="t" style="left:1916.08px;top:445px;font-size:18.3px;color:#000;transform:scaleX(1.0150);">1</span>
<span class="t" style="left:1041.67px;top:474px;font-size:17.8px;color:#000;transform:scaleX(1.0512);">Khâi-Ma LM</span>
<span class="t" style="left:1401.07px;top:473px;font-size:18.3px;color:#000;transform:scaleX(1.0150);">344</span>
<span class="t" style="left:1502.25px;top:473px;font-size:18.3px;color:#000;transform:scaleX(1.0150);">280</span>
<span class="t" style="left:1706.38px;top:473px;font-size:18.3px;color:#000;transform:scaleX(1.0150);">2</span>
<span class="t" style="left:1911.17px;top:473px;font-size:18.3px;color:#000;transform:scaleX(1.0150);">62</span>
<span class="t" style="left:1041.69px;top:502px;font-size:17.8px;color:#000;transform:scaleX(1.0322);">Nama Khoi LM</span>
<span class="t" style="left:1323.68px;top:501px;font-size:18.3px;color:#000;transform:scaleX(1.0150);">1</span>
<span class="t" style="left:1395.99px;top:501px;font-size:18.3px;color:#000;transform:scaleX(1.0150);">2522</span>
<span class="t" style="left:1497.19px;top:501px;font-size:18.3px;color:#000;transform:scaleX(1.0150);">2052</span>
<span class="t" style="left:1701.41px;top:501px;font-size:18.3px;color:#000;transform:scaleX(1.0150);">46</span>
<span class="t" style="left:1906.06px;top:501px;font-size:18.3px;color:#000;transform:scaleX(1.0150);">424</span>
<span class="t" style="left:1041.69px;top:531px;font-size:17.8px;color:#000;transform:scaleX(1.0370);">Richtersveld LM</span>
<span class="t" style="left:1401.22px;top:530px;font-size:18.3px;color:#000;transform:scaleX(1.0150);">579</span>
<span class="t" style="left:1502.44px;top:530px;font-size:18.3px;color:#000;transform:scaleX(1.0150);">511</span>
<span class="t" style="left:1706.38px;top:530px;font-size:18.3px;color:#000;transform:scaleX(1.0150);">2</span>
<span class="t" style="left:1911.11px;top:530px;font-size:18.3px;color:#000;transform:scaleX(1.0150);">66</span>
<span class="t" style="left:1041.71px;top:559px;font-size:17.8px;color:#fff;font-weight:700;text-shadow:0.6px 0.8px 0.5px rgba(0,0,0,.55);">Pixley ka Seme District</span>
<span class="t" style="left:1318.71px;top:558px;font-size:18.3px;color:#fff;font-weight:700;transform:scaleX(1.0150);text-shadow:0.6px 0.8px 0.5px rgba(0,0,0,.55);">25</span>
<span class="t" style="left:1396.03px;top:558px;font-size:18.3px;color:#fff;font-weight:700;transform:scaleX(1.0150);text-shadow:0.6px 0.8px 0.5px rgba(0,0,0,.55);">8183</span>
<span class="t" style="left:1497.13px;top:558px;font-size:18.3px;color:#fff;font-weight:700;transform:scaleX(1.0150);text-shadow:0.6px 0.8px 0.5px rgba(0,0,0,.55);">7753</span>
<span class="t" style="left:1617.60px;top:558px;font-size:18.3px;color:#fff;font-weight:700;transform:scaleX(1.0150);text-shadow:0.6px 0.8px 0.5px rgba(0,0,0,.55);">0</span>
<span class="t" style="left:1695.81px;top:558px;font-size:18.3px;color:#fff;font-weight:700;transform:scaleX(1.0150);text-shadow:0.6px 0.8px 0.5px rgba(0,0,0,.55);">103</span>
<span class="t" style="left:1806.56px;top:558px;font-size:18.3px;color:#fff;font-weight:700;transform:scaleX(1.0150);text-shadow:0.6px 0.8px 0.5px rgba(0,0,0,.55);">1</span>
<span class="t" style="left:1906.13px;top:558px;font-size:18.3px;color:#fff;font-weight:700;transform:scaleX(1.0150);text-shadow:0.6px 0.8px 0.5px rgba(0,0,0,.55);">326</span>
<span class="t" style="left:1041.66px;top:587px;font-size:17.8px;color:#000;transform:scaleX(1.0561);">Emthanjeni LM</span>
<span class="t" style="left:1323.99px;top:586px;font-size:18.3px;color:#000;transform:scaleX(1.0150);">4</span>
<span class="t" style="left:1395.99px;top:586px;font-size:18.3px;color:#000;transform:scaleX(1.0150);">2207</span>
<span class="t" style="left:1497.16px;top:586px;font-size:18.3px;color:#000;transform:scaleX(1.0150);">2129</span>
<span class="t" style="left:1701.16px;top:586px;font-size:18.3px;color:#000;transform:scaleX(1.0150);">23</span>
<span class="t" style="left:1911.19px;top:586px;font-size:18.3px;color:#000;transform:scaleX(1.0150);">55</span>
<span class="t" style="left:1041.71px;top:615px;font-size:17.8px;color:#000;transform:scaleX(1.0221);">Kareeberg LM</span>
<span class="t" style="left:1401.24px;top:614px;font-size:18.3px;color:#000;transform:scaleX(1.0150);">349</span>
<span class="t" style="left:1502.44px;top:614px;font-size:18.3px;color:#000;transform:scaleX(1.0150);">339</span>
<span class="t" style="left:1706.44px;top:614px;font-size:18.3px;color:#000;transform:scaleX(1.0150);">3</span>
<span class="t" style="left:1916.33px;top:614px;font-size:18.3px;color:#000;transform:scaleX(1.0150);">7</span>
<span class="t" style="left:1041.68px;top:643px;font-size:17.8px;color:#000;transform:scaleX(1.0379);">Renosterberg LM</span>
<span class="t" style="left:1401.35px;top:642px;font-size:18.3px;color:#000;transform:scaleX(1.0150);">443</span>
<span class="t" style="left:1502.61px;top:642px;font-size:18.3px;color:#000;transform:scaleX(1.0150);">432</span>
<span class="t" style="left:1706.44px;top:642px;font-size:18.3px;color:#000;transform:scaleX(1.0150);">4</span>
<span class="t" style="left:1916.33px;top:642px;font-size:18.3px;color:#000;transform:scaleX(1.0150);">7</span>
<span class="t" style="left:1042.38px;top:671px;font-size:17.8px;color:#000;transform:scaleX(1.0194);">Siyancuma LM</span>
<span class="t" style="left:1395.75px;top:670px;font-size:18.3px;color:#000;transform:scaleX(1.0150);">1012</span>
<span class="t" style="left:1502.33px;top:670px;font-size:18.3px;color:#000;transform:scaleX(1.0150);">923</span>
<span class="t" style="left:1701.33px;top:670px;font-size:18.3px;color:#000;transform:scaleX(1.0150);">32</span>
<span class="t" style="left:1911.26px;top:670px;font-size:18.3px;color:#000;transform:scaleX(1.0150);">57</span>
<span class="t" style="left:1042.36px;top:699px;font-size:17.8px;color:#000;transform:scaleX(1.0362);">Siyathemba LM</span>
<span class="t" style="left:1318.47px;top:698px;font-size:18.3px;color:#000;transform:scaleX(1.0150);">18</span>
<span class="t" style="left:1401.12px;top:698px;font-size:18.3px;color:#000;transform:scaleX(1.0150);">958</span>
<span class="t" style="left:1502.31px;top:698px;font-size:18.3px;color:#000;transform:scaleX(1.0150);">810</span>
<span class="t" style="left:1700.98px;top:698px;font-size:18.3px;color:#000;transform:scaleX(1.0150);">12</span>
<span class="t" style="left:1905.71px;top:698px;font-size:18.3px;color:#000;transform:scaleX(1.0150);">136</span>
<span class="t" style="left:1042.79px;top:727px;font-size:17.8px;color:#000;transform:scaleX(1.0363);">Thembelihle LM</span>
<span class="t" style="left:1323.99px;top:726px;font-size:18.3px;color:#000;transform:scaleX(1.0150);">3</span>
<span class="t" style="left:1401.16px;top:726px;font-size:18.3px;color:#000;transform:scaleX(1.0150);">823</span>
<span class="t" style="left:1502.24px;top:726px;font-size:18.3px;color:#000;transform:scaleX(1.0150);">790</span>
<span class="t" style="left:1700.92px;top:726px;font-size:18.3px;color:#000;transform:scaleX(1.0150);">13</span>
<span class="t" style="left:1911.07px;top:726px;font-size:18.3px;color:#000;transform:scaleX(1.0150);">20</span>
<span class="t" style="left:1041.73px;top:755px;font-size:17.8px;color:#000;transform:scaleX(1.0720);">Ubuntu LM</span>
<span class="t" style="left:1401.14px;top:754px;font-size:18.3px;color:#000;transform:scaleX(1.0150);">855</span>
<span class="t" style="left:1502.36px;top:754px;font-size:18.3px;color:#000;transform:scaleX(1.0150);">816</span>
<span class="t" style="left:1706.44px;top:754px;font-size:18.3px;color:#000;transform:scaleX(1.0150);">4</span>
<span class="t" style="left:1911.21px;top:754px;font-size:18.3px;color:#000;transform:scaleX(1.0150);">35</span>
<span class="t" style="left:1041.74px;top:783px;font-size:17.8px;color:#000;transform:scaleX(1.0612);">Umsobomvu LM</span>
<span class="t" style="left:1395.69px;top:782px;font-size:18.3px;color:#000;transform:scaleX(1.0150);">1536</span>
<span class="t" style="left:1496.75px;top:782px;font-size:18.3px;color:#000;transform:scaleX(1.0150);">1514</span>
<span class="t" style="left:1700.98px;top:782px;font-size:18.3px;color:#000;transform:scaleX(1.0150);">12</span>
<span class="t" style="left:1806.63px;top:782px;font-size:18.3px;color:#000;transform:scaleX(1.0150);">1</span>
<span class="t" style="left:1916.34px;top:782px;font-size:18.3px;color:#000;transform:scaleX(1.0150);">9</span>
<span class="t" style="left:1042.38px;top:811px;font-size:17.8px;color:#fff;font-weight:700;transform:scaleX(0.9899);text-shadow:0.6px 0.8px 0.5px rgba(0,0,0,.55);">ZF Mgcawu District</span>
<span class="t" style="left:1318.83px;top:810px;font-size:18.3px;color:#fff;font-weight:700;transform:scaleX(1.0150);text-shadow:0.6px 0.8px 0.5px rgba(0,0,0,.55);">20</span>
<span class="t" style="left:1395.93px;top:810px;font-size:18.3px;color:#fff;font-weight:700;transform:scaleX(1.0150);text-shadow:0.6px 0.8px 0.5px rgba(0,0,0,.55);">7816</span>
<span class="t" style="left:1497.17px;top:810px;font-size:18.3px;color:#fff;font-weight:700;transform:scaleX(1.0150);text-shadow:0.6px 0.8px 0.5px rgba(0,0,0,.55);">7430</span>
<span class="t" style="left:1617.60px;top:810px;font-size:18.3px;color:#fff;font-weight:700;transform:scaleX(1.0150);text-shadow:0.6px 0.8px 0.5px rgba(0,0,0,.55);">0</span>
<span class="t" style="left:1695.84px;top:810px;font-size:18.3px;color:#fff;font-weight:700;transform:scaleX(1.0150);text-shadow:0.6px 0.8px 0.5px rgba(0,0,0,.55);">182</span>
<span class="t" style="left:1905.73px;top:810px;font-size:18.3px;color:#fff;font-weight:700;transform:scaleX(1.0150);text-shadow:0.6px 0.8px 0.5px rgba(0,0,0,.55);">204</span>
<span class="t" style="left:1041.53px;top:840px;font-size:17.8px;color:#000;transform:scaleX(1.0411);">!Kheis LM</span>
<span class="t" style="left:1323.68px;top:839px;font-size:18.3px;color:#000;transform:scaleX(1.0150);">1</span>
<span class="t" style="left:1401.07px;top:839px;font-size:18.3px;color:#000;transform:scaleX(1.0150);">314</span>
<span class="t" style="left:1502.35px;top:839px;font-size:18.3px;color:#000;transform:scaleX(1.0150);">282</span>
<span class="t" style="left:1706.38px;top:839px;font-size:18.3px;color:#000;transform:scaleX(1.0150);">7</span>
<span class="t" style="left:1911.09px;top:839px;font-size:18.3px;color:#000;transform:scaleX(1.0150);">25</span>
<span class="t" style="left:1041.67px;top:868px;font-size:17.8px;color:#000;transform:scaleX(1.0502);">Dawid Kruiper LM</span>
<span class="t" style="left:1318.45px;top:867px;font-size:18.3px;color:#000;transform:scaleX(1.0150);">15</span>
<span class="t" style="left:1396.17px;top:867px;font-size:18.3px;color:#000;transform:scaleX(1.0150);">4185</span>
<span class="t" style="left:1497.23px;top:867px;font-size:18.3px;color:#000;transform:scaleX(1.0150);">3965</span>
<span class="t" style="left:1695.81px;top:867px;font-size:18.3px;color:#000;transform:scaleX(1.0150);">102</span>
<span class="t" style="left:1905.70px;top:867px;font-size:18.3px;color:#000;transform:scaleX(1.0150);">118</span>
<span class="t" style="left:1041.69px;top:896px;font-size:17.8px;color:#000;transform:scaleX(1.0331);">Kai !Garib LM</span>
<span class="t" style="left:1323.68px;top:895px;font-size:18.3px;color:#000;transform:scaleX(1.0150);">1</span>
<span class="t" style="left:1395.67px;top:895px;font-size:18.3px;color:#000;transform:scaleX(1.0150);">1405</span>
<span class="t" style="left:1496.75px;top:895px;font-size:18.3px;color:#000;transform:scaleX(1.0150);">1334</span>
<span class="t" style="left:1701.32px;top:895px;font-size:18.3px;color:#000;transform:scaleX(1.0150);">31</span>
<span class="t" style="left:1911.32px;top:895px;font-size:18.3px;color:#000;transform:scaleX(1.0150);">40</span>
<span class="t" style="left:1041.68px;top:924px;font-size:17.8px;color:#000;transform:scaleX(1.0383);">Kgatelopele LM</span>
<span class="t" style="left:1323.68px;top:923px;font-size:18.3px;color:#000;transform:scaleX(1.0150);">1</span>
<span class="t" style="left:1401.27px;top:923px;font-size:18.3px;color:#000;transform:scaleX(1.0150);">387</span>
<span class="t" style="left:1502.41px;top:923px;font-size:18.3px;color:#000;transform:scaleX(1.0150);">376</span>
<span class="t" style="left:1706.44px;top:923px;font-size:18.3px;color:#000;transform:scaleX(1.0150);">4</span>
<span class="t" style="left:1916.33px;top:923px;font-size:18.3px;color:#000;transform:scaleX(1.0150);">7</span>
<span class="t" style="left:1042.79px;top:953px;font-size:17.8px;color:#000;transform:scaleX(1.0212);">Tsantsabane LM</span>
<span class="t" style="left:1323.93px;top:952px;font-size:18.3px;color:#000;transform:scaleX(1.0150);">2</span>
<span class="t" style="left:1395.67px;top:952px;font-size:18.3px;color:#000;transform:scaleX(1.0150);">1525</span>
<span class="t" style="left:1496.89px;top:952px;font-size:18.3px;color:#000;transform:scaleX(1.0150);">1473</span>
<span class="t" style="left:1701.27px;top:952px;font-size:18.3px;color:#000;transform:scaleX(1.0150);">38</span>
<span class="t" style="left:1910.73px;top:952px;font-size:18.3px;color:#000;transform:scaleX(1.0150);">14</span>
<span class="t" style="left:1041.75px;top:979px;font-size:17.8px;color:#111;transform:scaleX(1.0592);">Unallocated</span>
<span class="t" style="left:1323.68px;top:978px;font-size:18.3px;color:#111;transform:scaleX(1.0150);">1</span>
<span class="t" style="left:1411.48px;top:978px;font-size:18.3px;color:#111;transform:scaleX(1.0150);">2</span>
<span class="t" style="left:1512.68px;top:978px;font-size:18.3px;color:#111;transform:scaleX(1.0150);">0</span>
<span class="t" style="left:1701.27px;top:978px;font-size:18.3px;color:#111;transform:scaleX(1.0150);">33</span>
<span class="t" style="left:1041.80px;top:1006px;font-size:17.8px;color:#000;font-weight:700;transform:scaleX(0.9260);">PROVINCIAL TOTALS</span>
<span class="t" style="left:1313.12px;top:1005px;font-size:18.3px;color:#000;font-weight:700;transform:scaleX(1.0300);">163</span>
<span class="t" style="left:1387.94px;top:1005px;font-size:18.3px;color:#000;font-weight:700;transform:scaleX(1.0300);">40 345</span>
<span class="t" style="left:1489.19px;top:1005px;font-size:18.3px;color:#000;font-weight:700;transform:scaleX(1.0300);">35 612</span>
<span class="t" style="left:1617.18px;top:1005px;font-size:18.3px;color:#000;font-weight:700;transform:scaleX(1.0300);">1</span>
<span class="t" style="left:1695.82px;top:1005px;font-size:18.3px;color:#000;font-weight:700;transform:scaleX(1.0300);">898</span>
<span class="t" style="left:1806.86px;top:1005px;font-size:18.3px;color:#000;font-weight:700;transform:scaleX(1.0300);">2</span>
<span class="t" style="left:1898.04px;top:1005px;font-size:18.3px;color:#000;font-weight:700;transform:scaleX(1.0300);">3 833</span>
<svg width="1988" height="1038" viewBox="0 0 1988 1038" style="position:absolute;left:0;top:0">
<path d="M367.0 383.0 L376.5 388.0 L385.0 398.0 L391.5 410.0 L397.7 425.0 L399.0 435.0 L393.0 448.0 L392.5 460.0 L395.0 465.0 L405.0 462.5 L430.0 460.0 L434.0 455.0 L445.0 446.5 L453.0 440.0 L464.0 430.0 L466.6 416.5 L470.0 406.4 L480.0 404.7 L500.0 406.4 L515.0 414.0 L540.0 421.5 L555.0 419.0 L567.5 410.0 L577.6 390.0 L580.0 380.0 L595.0 375.0 L607.6 365.0 L615.0 355.0 L620.6 338.4 L630.4 329.9 L643.1 322.9 L650.1 314.4 L658.6 304.6 L667.0 297.5 L683.9 293.3 L693.8 286.3 L700.8 283.5 L714.9 280.6 L729.0 284.9 L743.1 289.1 L757.2 290.5 L771.3 291.9 L778.3 294.7 L781.1 310.2 L785.4 331.3 L792.4 348.2 L798.0 366.5 L799.4 387.7 L798.5 410.0 L797.0 430.0 L795.0 455.0 L793.0 470.0 L758.0 470.0 L759.0 476.0 L762.0 481.0 L768.0 485.5 L775.0 487.0 L792.6 487.0 L792.6 471.5 L824.0 472.5 L820.0 487.6 L815.0 505.0 L811.5 512.0 L808.0 526.0 L803.0 531.5 L790.0 552.5 L783.0 561.0 L763.0 583.0 L742.6 605.0 L722.0 631.6 L702.0 654.0 L682.0 676.0 L661.6 696.4 L637.6 712.8 L615.0 725.3 L590.0 732.8 L570.0 736.6 L555.0 742.8 L540.0 749.0 L515.4 746.6 L490.4 744.0 L465.3 746.6 L440.3 753.0 L415.3 760.4 L395.2 768.0 L382.7 778.0 L370.2 775.4 L352.7 766.6 L340.0 755.0 L332.6 763.0 L329.0 759.0 L327.6 745.3 L322.6 730.3 L312.6 715.3 L309.0 705.3 L320.0 695.3 L322.6 680.0 L312.6 660.0 L295.0 630.0 L280.0 600.0 L267.5 570.0 L257.5 547.5 L251.3 540.0 L255.0 535.4 L261.3 524.0 L268.8 518.0 L275.0 520.4 L281.3 531.0 L290.0 540.5 L315.0 547.5 L340.0 545.0 L350.0 537.5 L360.0 530.0 L372.0 523.0 L370.2 468.0Z" fill="#fee3ad" stroke="#fee3ad" stroke-width="1.5" stroke-linejoin="round"/>
<path d="M667.7 533.5 L679.8 540.6 L692.0 554.7 L698.0 563.9 L692.0 577.0 L685.9 589.1 L673.8 595.2 L659.6 601.3 L649.5 613.4 L637.4 609.4 L629.3 599.3 L623.2 585.1 L616.1 574.0 L627.2 566.9 L641.4 556.8 L657.6 542.6Z" fill="#fff" stroke="#fff" stroke-width="1" stroke-linejoin="round"/>
<path d="M464.0 430.2 L466.6 450.3 L477.9 465.3 L490.4 480.3 L515.4 492.8 L528.0 500.3 L537.0 498.0 L540.5 510.3 L548.0 520.4 L540.5 540.0 L525.4 570.0 L530.4 585.0 L548.0 602.6 L560.0 607.6 L565.0 612.6" fill="none" stroke="#fff" stroke-opacity=".85" stroke-width="1.7" stroke-linejoin="round"/>
<path d="M540.0 585.0 L552.5 595.0 L565.0 612.6 L562.5 625.0 L560.0 632.7 L540.5 637.7 L528.0 645.2 L517.9 655.2" fill="none" stroke="#fff" stroke-opacity=".85" stroke-width="1.7" stroke-linejoin="round"/>
<path d="M565.0 612.6 L590.0 605.0 L615.0 607.6 L627.6 600.0" fill="none" stroke="#fff" stroke-opacity=".85" stroke-width="1.7" stroke-linejoin="round"/>
<path d="M301.3 635.2 L307.6 622.7 L320.0 610.0 L327.6 610.0 L340.0 625.0 L345.0 660.0 L357.7 672.7 L362.7 692.8 L367.7 682.7 L385.2 677.7 L382.7 690.3 L390.2 702.8 L402.7 702.8 L410.3 690.3 L430.3 675.2 L445.3 670.2 L455.3 650.2 L465.3 656.5 L480.4 660.2 L492.9 652.7 L507.9 656.5 L517.9 655.2" fill="none" stroke="#fff" stroke-opacity=".85" stroke-width="1.7" stroke-linejoin="round"/>
<path d="M517.9 656.5 L515.4 667.7 L490.4 680.2 L487.9 695.3 L475.4 710.3 L472.9 720.3 L490.4 722.8 L500.4 730.3 L500.4 744.0" fill="none" stroke="#fff" stroke-opacity=".85" stroke-width="1.7" stroke-linejoin="round"/>
<path d="M595.2 376.4 L602.3 383.5 L616.3 386.3 L627.6 391.9 L638.9 391.9 L651.5 397.5 L661.4 401.8" fill="none" stroke="#fff" stroke-opacity=".85" stroke-width="1.7" stroke-linejoin="round"/>
<path d="M661.4 401.8 L667.0 398.9 L676.9 394.7 L686.8 390.5 L698.0 384.9 L703.7 383.5 L706.5 394.7 L714.9 397.5 L726.2 387.7 L731.8 379.2 L743.1 379.2 L754.4 373.6 L761.4 379.2 L764.2 389.1 L768.5 397.5 L776.9 393.3 L782.5 382.0 L778.3 373.6 L781.1 365.1 L775.5 359.5 L785.4 356.7 L793.8 355.3" fill="none" stroke="#fff" stroke-opacity=".85" stroke-width="1.7" stroke-linejoin="round"/>
<path d="M656.7 406.4 L668.0 400.0 L683.0 402.4 L691.1 410.4 L687.1 422.6 L681.0 430.7 L670.9 434.7 L658.7 430.7 L652.7 418.5 L656.7 406.4" fill="none" stroke="#fff" stroke-opacity=".85" stroke-width="1.7" stroke-linejoin="round"/>
<path d="M652.7 418.5 L640.0 428.0 L630.0 436.0 L624.4 446.9 L614.2 459.0 L602.1 467.1 L594.0 479.2 L587.9 491.4 L570.0 497.0 L548.0 520.4" fill="none" stroke="#fff" stroke-opacity=".85" stroke-width="1.7" stroke-linejoin="round"/>
<path d="M670.9 434.7 L664.8 446.9 L668.9 463.0 L683.0 467.1 L707.3 483.3 L712.8 487.8 L715.3 505.3 L702.7 520.4 L690.2 530.4 L680.0 540.0" fill="none" stroke="#fff" stroke-opacity=".85" stroke-width="1.7" stroke-linejoin="round"/>
<path d="M712.5 490.1 L731.3 485.1 L750.0 484.5 L767.6 485.1" fill="none" stroke="#fff" stroke-opacity=".85" stroke-width="1.7" stroke-linejoin="round"/>
<path d="M685.2 592.6 L676.5 602.6 L682.7 612.6 L702.7 617.6 L720.3 627.7 L722.8 632.7" fill="none" stroke="#fff" stroke-opacity=".85" stroke-width="1.7" stroke-linejoin="round"/>
<g stroke="#0c7048" fill="#0c7048"><line x1="586.3" y1="353.2" x2="671.5" y2="418.5" stroke-width="2.2"/><circle cx="586.3" cy="353.2" r="4.4" stroke="none"/><circle cx="671.5" cy="418.5" r="4.4" stroke="none"/></g>
<g fill="#97989b"><rect x="159" y="128.5" width="15.8" height="4.2" rx="1"/><path d="M161.3 131 h11 v18.6 a5.5 5.5 0 0 1 -11 0 Z"/><rect x="179.3" y="128.5" width="15.8" height="4.2" rx="1"/><path d="M181.6 131 h11 v18.6 a5.5 5.5 0 0 1 -11 0 Z"/><rect x="154.5" y="159.8" width="45.1" height="4.3" rx="1.5"/></g><rect x="164.5" y="133.2" width="4.8" height="6.3" fill="#fff"/><rect x="184.8" y="133.2" width="4.8" height="6.3" fill="#fff"/>
<g fill="#97989b"><circle cx="378.3" cy="138" r="8.8"/><path d="M362.5 165.1 V158 C362.5 152.5 366 149.6 370.5 149.6 C373 149.6 374.5 151.2 378.1 151.2 C381.7 151.2 383.2 149.6 385.7 149.6 C390.2 149.6 393.6 152.5 393.6 158 V162.5 a2.6 2.6 0 0 1 -2.6 2.6 H365.1 a2.6 2.6 0 0 1 -2.6 -2.6Z"/><rect x="391.8" y="143.9" width="15.8" height="4.4" rx=".8"/><rect x="397.4" y="138.3" width="4.4" height="15.5" rx=".8"/></g>
<path fill="#97989b" d="M581.6 133.6 C578.5 129.2 574.8 128.2 571.5 128.2 C565.5 128.2 561.3 132.8 561.3 138.6 C561.3 142.5 562.8 145.6 566 149.2 L581.6 164.2 L597.2 149.2 C600.4 145.6 601.9 142.5 601.9 138.6 C601.9 132.8 597.7 128.2 591.7 128.2 C588.4 128.2 584.7 129.2 581.6 133.6Z"/><path d="M562 148.1 L572.6 147.6 L576.3 140.2 L581.3 152.4 L586.6 142.6 L589.2 147.2 L601.5 148.1" fill="none" stroke="#fff" stroke-width="2.3" stroke-linejoin="miter"/>
<path fill="#97989b" d="M751.1 128.1 C749.6 128.1 749 129.2 749 129.2 L740.4 141.6 C739.7 143.2 739.6 144.6 739.6 146.1 V150.3 L733.2 152.8 C732.4 153.1 732 153.9 732 155.1 V162.2 C732 163.6 733 164.4 734.2 164.1 L750.1 159.6 C752.1 158.9 753.1 157.6 753.1 156.1 L753.3 144 C753.3 142.6 752.3 142 751.1 142 C749.9 142 749.1 142.8 749.1 144 L748.8 149.6 C748.8 150.3 748.3 150.6 747.6 150.6 C746.8 150.6 746.3 150.2 746.3 149.6 L748 143.8 L753 131.2 C753.4 129.6 752.5 128.3 751.1 128.3Z"/><path fill="#97989b" d="M751.1 128.1 C749.6 128.1 749 129.2 749 129.2 L740.4 141.6 C739.7 143.2 739.6 144.6 739.6 146.1 V150.3 L733.2 152.8 C732.4 153.1 732 153.9 732 155.1 V162.2 C732 163.6 733 164.4 734.2 164.1 L750.1 159.6 C752.1 158.9 753.1 157.6 753.1 156.1 L753.3 144 C753.3 142.6 752.3 142 751.1 142 C749.9 142 749.1 142.8 749.1 144 L748.8 149.6 C748.8 150.3 748.3 150.6 747.6 150.6 C746.8 150.6 746.3 150.2 746.3 149.6 L748 143.8 L753 131.2 C753.4 129.6 752.5 128.3 751.1 128.3Z" transform="translate(1508.9,0) scale(-1,1)"/>
<circle cx="892.3" cy="143" r="11.6" fill="none" stroke="#97989b" stroke-width="5.7"/><line x1="901.5" y1="152.5" x2="912.3" y2="163.2" stroke="#97989b" stroke-width="5.6" stroke-linecap="round"/>
<g transform="translate(705.97,755.87) rotate(-45)" fill="#fbb721"><rect x="0" y="-1.5" width="13" height="3"/><path d="M10.5 -3.4 Q11.5 -9.2 17.5 -9.2 H48.4 V9.2 H17.5 Q11.5 9.2 10.5 3.4Z"/><rect x="50.8" y="-13" width="6.6" height="26" rx="1.2"/><rect x="57" y="-2" width="8" height="4"/><rect x="64.3" y="-6.7" width="4.2" height="13.4" rx="1.2"/><rect x="25.2" y="-9.4" width="3.3" height="8.6" fill="#000"/><rect x="35" y="-9.4" width="3.3" height="8.6" fill="#000"/></g>
<g fill="#fff" transform="translate(1.2,0)"><path d="M806.3 833.1 c0 -2.6 2.1 -3.8 2.2 -3.9 c-1.2 -1.8 -3.1 -2 -3.7 -2 c-1.6 -.2 -3.1 .9 -3.9 .9 c-.8 0 -2 -.9 -3.4 -.9 c-1.7 0 -3.3 1 -4.200 2.500 c-1.800 3.100 -.500 7.700 1.300 10.200 c.9 1.200 1.900 2.600 3.200 2.600 c1.300 -.1 1.800 -.8 3.300 -.8 c1.500 0 2 .8 3.400 .8 c1.400 0 2.300 -1.300 3.100 -2.500 c1 -1.400 1.400 -2.800 1.400 -2.900 c0 0 -2.700 -1 -2.700 -4z"/><path d="M803.800 825.600 c.7 -.9 1.200 -2.100 1.100 -3.300 c-1 0 -2.300 .7 -3 1.600 c-.7 .8 -1.200 2 -1.100 3.200 c1.100 .1 2.300 -.6 3 -1.500z"/></g>
<g><path d="M792.8 864.6 L802.3 874 L792.8 883.4Z" fill="#3ac0e8"/><path d="M792.8 864.6 L805.4 871.2 L802.3 874Z" fill="#4fcf70"/><path d="M792.8 883.4 L805.4 876.8 L802.3 874Z" fill="#e8404a"/><path d="M805.4 871.2 L811.2 874 L805.4 876.8 L802.3 874Z" fill="#f8c52c"/></g>
</svg>
<span class="t" style="left:477.77px;top:295px;font-size:14.7px;color:#0c7048;font-weight:700;transform:scaleX(0.8849);">GAUTENG</span>
<span class="t" style="left:439.18px;top:312px;font-size:10.9px;color:#2a8560;font-weight:700;transform:scaleX(0.9491);">CONFIRMED CASES: 424326</span>
<span class="t" style="left:470.50px;top:326px;font-size:10.9px;color:#2a8560;font-weight:700;transform:scaleX(0.9569);">DEATHS: 10664</span>
<span class="t" style="left:454.71px;top:340px;font-size:10.9px;color:#2a8560;font-weight:700;transform:scaleX(0.9407);">RECOVERIES: 410 573</span>
<span class="t" style="left:679.09px;top:312px;font-size:14.7px;color:#0c7048;font-weight:700;transform:scaleX(0.9262);">LIMPOPO</span>
<span class="t" style="left:642.78px;top:329px;font-size:10.9px;color:#2a8560;font-weight:700;transform:scaleX(0.9456);">CONFIRMED CASES: 63950</span>
<span class="t" style="left:674.20px;top:343px;font-size:10.9px;color:#2a8560;font-weight:700;transform:scaleX(0.9590);">DEATHS: 2272</span>
<span class="t" style="left:658.72px;top:357px;font-size:10.9px;color:#2a8560;font-weight:700;transform:scaleX(0.9293);">RECOVERIES: 61 370</span>
<span class="t" style="left:708.39px;top:413px;font-size:14.7px;color:#0c7048;font-weight:700;transform:scaleX(0.9228);">MPUMALANGA</span>
<span class="t" style="left:690.68px;top:429px;font-size:10.9px;color:#2a8560;font-weight:700;transform:scaleX(0.9498);">CONFIRMED CASES: 78330</span>
<span class="t" style="left:721.80px;top:443px;font-size:10.9px;color:#2a8560;font-weight:700;transform:scaleX(0.9571);">DEATHS: 1396</span>
<span class="t" style="left:706.62px;top:457px;font-size:10.9px;color:#2a8560;font-weight:700;transform:scaleX(0.9269);">RECOVERIES: 76 177</span>
<span class="t" style="left:505.12px;top:433px;font-size:14.7px;color:#0c7048;font-weight:700;transform:scaleX(0.8908);">NORTH WEST</span>
<span class="t" style="left:481.68px;top:449px;font-size:10.9px;color:#2a8560;font-weight:700;transform:scaleX(0.9432);">CONFIRMED CASES: 67829</span>
<span class="t" style="left:513.00px;top:463px;font-size:10.9px;color:#2a8560;font-weight:700;transform:scaleX(0.9613);">DEATHS: 1725</span>
<span class="t" style="left:497.82px;top:477px;font-size:10.9px;color:#2a8560;font-weight:700;transform:scaleX(0.9298);">RECOVERIES: 63 136</span>
<span class="t" style="left:579.26px;top:505px;font-size:14.7px;color:#0c7048;font-weight:700;transform:scaleX(0.8575);">FREE STATE</span>
<span class="t" style="left:550.58px;top:522px;font-size:10.9px;color:#2a8560;font-weight:700;transform:scaleX(0.9447);">CONFIRMED CASES: 89455</span>
<span class="t" style="left:582.00px;top:535px;font-size:10.9px;color:#2a8560;font-weight:700;transform:scaleX(0.9551);">DEATHS: 3880</span>
<span class="t" style="left:566.23px;top:549px;font-size:10.9px;color:#2a8560;font-weight:700;transform:scaleX(0.9254);">RECOVERIES: 82 061</span>
<span class="t" style="left:715.42px;top:533px;font-size:14.7px;color:#0c7048;font-weight:700;transform:scaleX(0.8929);">KWAZULU-NATAL</span>
<span class="t" style="left:702.28px;top:549px;font-size:10.9px;color:#2a8560;font-weight:700;transform:scaleX(0.9480);">CONFIRMED CASES: 336732</span>
<span class="t" style="left:733.80px;top:563px;font-size:10.9px;color:#2a8560;font-weight:700;transform:scaleX(0.9601);">DEATHS: 10388</span>
<span class="t" style="left:718.22px;top:577px;font-size:10.9px;color:#2a8560;font-weight:700;transform:scaleX(0.9329);">RECOVERIES: 321 013</span>
<span class="t" style="left:548.03px;top:646px;font-size:14.7px;color:#0c7048;font-weight:700;transform:scaleX(0.8802);">EASTERN CAPE</span>
<span class="t" style="left:528.08px;top:664px;font-size:10.9px;color:#2a8560;font-weight:700;transform:scaleX(0.9451);">CONFIRMED CASES: 196109</span>
<span class="t" style="left:559.40px;top:677px;font-size:10.9px;color:#2a8560;font-weight:700;transform:scaleX(0.9564);">DEATHS: 11568</span>
<span class="t" style="left:543.62px;top:691px;font-size:10.9px;color:#2a8560;font-weight:700;transform:scaleX(0.9381);">RECOVERIES: 184 356</span>
<span class="t" style="left:376.83px;top:558px;font-size:14.7px;color:#0c7048;font-weight:700;transform:scaleX(0.8834);">NORTHERN CAPE</span>
<span class="t" style="left:365.48px;top:575px;font-size:10.9px;color:#2a8560;font-weight:700;transform:scaleX(0.9454);">CONFIRMED CASES: 40345</span>
<span class="t" style="left:400.31px;top:589px;font-size:10.9px;color:#2a8560;font-weight:700;transform:scaleX(0.9491);">DEATHS: 898</span>
<span class="t" style="left:381.52px;top:602px;font-size:10.9px;color:#2a8560;font-weight:700;transform:scaleX(0.9311);">RECOVERIES: 35 612</span>
<span class="t" style="left:345.89px;top:709px;font-size:14.7px;color:#0c7048;font-weight:700;transform:scaleX(0.8690);">WESTERN CAPE</span>
<span class="t" style="left:325.98px;top:726px;font-size:10.9px;color:#2a8560;font-weight:700;transform:scaleX(0.9467);">CONFIRMED CASES: 286988</span>
<span class="t" style="left:357.50px;top:740px;font-size:10.9px;color:#2a8560;font-weight:700;transform:scaleX(0.9621);">DEATHS: 11626</span>
<span class="t" style="left:342.02px;top:754px;font-size:10.9px;color:#2a8560;font-weight:700;transform:scaleX(0.9359);">RECOVERIES: 273 480</span>
<span class="t" style="left:875.24px;top:291px;font-size:13.8px;color:#0c7048;font-weight:700;transform:scaleX(0.9207);">UNALLOCATED</span>
<span class="t" style="left:856.09px;top:306px;font-size:10.5px;color:#2a8560;font-weight:700;transform:scaleX(0.9583);">CONFIRMED CASES: 00</span>
<svg width="1988" height="1038" viewBox="0 0 1988 1038" style="position:absolute;left:0;top:0">
<g transform="translate(75,920) scale(0.08857)">
<polygon points="118,232 130,170 160,118 230,84 252,160 278,268 332,340 384,402 335,446 285,446 200,384 150,322" fill="#dd7c2c"/><polygon points="118,232 130,170 160,118 230,84 252,160 276,280 190,322 150,300" fill="#eca048"/><path d="M150 150 L215 300 M185 120 L245 290" stroke="#f4c07a" stroke-width="10" fill="none"/>
<g transform="translate(880,0) scale(-1,1)"><polygon points="118,232 130,170 160,118 230,84 252,160 278,268 332,340 384,402 335,446 285,446 200,384 150,322" fill="#dd7c2c"/><polygon points="118,232 130,170 160,118 230,84 252,160 276,280 190,322 150,300" fill="#eca048"/><path d="M150 150 L215 300 M185 120 L245 290" stroke="#f4c07a" stroke-width="10" fill="none"/></g>
<polygon points="290,195 340,185 310,140 370,165 370,105 410,150 440,90 470,150 510,105 510,165 570,140 540,185 590,195 540,218 340,218" fill="#f8c42c"/>
<ellipse cx="440" cy="296" rx="62" ry="15" fill="#b9512c"/><polygon points="420,300 462,300 472,405 408,405" fill="#dc7a3c"/>
<path d="M205 440 C150 560 160 720 235 810" fill="none" stroke="#e9c88e" stroke-width="28"/><path d="M675 440 C730 560 720 720 645 810" fill="none" stroke="#e9c88e" stroke-width="28"/>
<path d="M268 600 C250 700 280 790 340 840" fill="none" stroke="#e6c9b4" stroke-width="16"/><path d="M612 600 C630 700 600 790 540 840" fill="none" stroke="#e6c9b4" stroke-width="16"/>
<polygon points="335,470 440,398 545,470 440,548" fill="#3f9442"/><polygon points="395,445 440,415 485,445 440,470" fill="#d9c42e"/>
<line x1="262" y1="527" x2="602" y2="527" stroke="#3a2a22" stroke-width="11"/><ellipse cx="580" cy="527" rx="22" ry="12" fill="#2a2220"/><ellipse cx="300" cy="527" rx="22" ry="9" fill="#2a2220"/>
<path d="M320 585 H560 V700 C560 790 500 840 440 868 C380 840 320 790 320 700Z" fill="#efb050" stroke="#a0603a" stroke-width="9"/>
<ellipse cx="398" cy="690" rx="17" ry="72" fill="#8c3c2a"/><ellipse cx="482" cy="690" rx="17" ry="72" fill="#8c3c2a"/>
<path d="M195 808 C260 930 360 968 440 968 C520 968 620 930 685 808 L642 798 C590 880 520 906 440 906 C360 906 290 880 238 798Z" fill="#1e8a4e"/>
<path d="M262 862 C330 925 390 938 440 938 C490 938 550 925 618 862" fill="none" stroke="#d8eee0" stroke-width="10" stroke-dasharray="14 8"/>
</g>
<g transform="translate(1038,10) scale(0.08673)">
<line x1="100" y1="108" x2="258" y2="248" stroke="#3c3428" stroke-width="20"/><line x1="135" y1="100" x2="245" y2="225" stroke="#3c3428" stroke-width="14"/>
<polygon points="185,225 255,250 285,330 262,450 232,560 160,592 138,520 170,400 178,300" fill="#e9a62e"/>
<polygon points="128,565 250,520 285,545 275,590 150,605" fill="#1f1f1f"/><polygon points="175,228 218,300 192,335 175,290" fill="#1f1f1f"/><polygon points="255,480 300,450 310,520 270,560" fill="#1f1f1f"/>
<polygon points="150,600 178,600 168,722 146,722" fill="#c9c9c9"/><polygon points="240,590 262,590 262,660 246,660" fill="#555"/>
<polygon points="128,380 150,360 150,520 128,500" fill="#1f1f1f"/>
<line x1="808" y1="215" x2="852" y2="118" stroke="#7d6d52" stroke-width="15"/><line x1="832" y1="215" x2="925" y2="148" stroke="#7d6d52" stroke-width="15"/>
<polygon points="760,200 832,228 852,400 842,560 822,722 792,722 790,600 742,560 702,600 702,702 680,702 678,520 700,400 742,300" fill="#eccb7a" stroke="#b08a44" stroke-width="7" stroke-linejoin="round"/>
<polygon points="760,200 800,215 790,280 745,300" fill="#c99a4a"/>
<polygon points="361,305 385,205 409,305" fill="#e2582c"/>
<polygon points="413,305 437,205 461,305" fill="#e2582c"/>
<polygon points="466,305 490,205 514,305" fill="#e2582c"/>
<polygon points="519,305 543,205 567,305" fill="#e2582c"/>
<polygon points="573,305 597,205 621,305" fill="#e2582c"/>
<rect x="398" y="272" width="190" height="44" fill="#6d5aa6"/><rect x="398" y="300" width="190" height="18" fill="#d8452e"/>
<clipPath id="shc"><path d="M335 330 H650 V520 C650 650 560 760 492 808 C425 760 335 650 335 520Z"/></clipPath>
<g clip-path="url(#shc)"><rect x="330" y="325" width="330" height="240" fill="#d9352c"/><rect x="330" y="560" width="330" height="260" fill="#2f4fae"/><polygon points="492,352 632,560 352,560" fill="#fff"/><polygon points="492,408 590,522 396,522" fill="#3ba24c"/><rect x="480" y="520" width="26" height="120" fill="#8a4c2c"/><polygon points="352,560 632,560 600,640 384,640" fill="#fff"/><polygon points="440,560 545,560 520,640 465,640" fill="#fff"/><rect x="480" y="520" width="26" height="120" fill="#8a4c2c"/><circle cx="492" cy="705" r="48" fill="#fff"/><circle cx="492" cy="705" r="24" fill="#2f4fae"/><circle cx="415" cy="655" r="22" fill="#fff"/><circle cx="570" cy="655" r="22" fill="#fff"/><circle cx="392" cy="400" r="30" fill="#f0a436"/><circle cx="392" cy="400" r="12" fill="#d9352c"/><circle cx="594" cy="400" r="30" fill="#f0a436"/><circle cx="594" cy="400" r="12" fill="#d9352c"/></g>
<path d="M335 330 H650 V520 C650 650 560 760 492 808 C425 760 335 650 335 520Z" fill="none" stroke="#7a2a26" stroke-width="6" stroke-opacity=".6"/>
<path d="M118 738 C200 792 300 762 360 802 C420 852 470 882 492 892 C520 882 570 852 630 802 C690 762 790 792 862 738 L850 716 C760 742 700 700 640 722 L560 800 L425 800 L350 722 C290 700 220 742 130 716Z" fill="#e9b648" stroke="#5e4226" stroke-width="11" stroke-linejoin="round"/>
<polygon points="280,742 360,690 425,765 340,800" fill="#de642a"/><polygon points="710,742 630,690 565,765 650,800" fill="#de642a"/><polygon points="170,735 250,715 280,760 200,775" fill="#f0c860"/><polygon points="810,735 730,715 700,760 780,775" fill="#f0c860"/>
</g>
<rect x="1125" y="64.3" width="147.1" height="2.2" fill="#3d6651"/>
</svg>
<span class="t" style="left:1123.66px;top:22px;font-size:13.1px;color:#3f7358;font-weight:700;transform:scaleX(0.9539);">Province of the</span>
<span class="t" style="left:1123.07px;top:38px;font-size:22.4px;color:#1f5f3c;font-weight:700;transform:scaleX(0.9536);">Northern Cape</span>
<span class="t" style="left:1123.81px;top:72px;font-size:11.8px;color:#366c50;font-weight:700;transform:scaleX(0.8803);">REPUBLIC OF SOUTH AFRICA</span>
</div>
</body></html>
